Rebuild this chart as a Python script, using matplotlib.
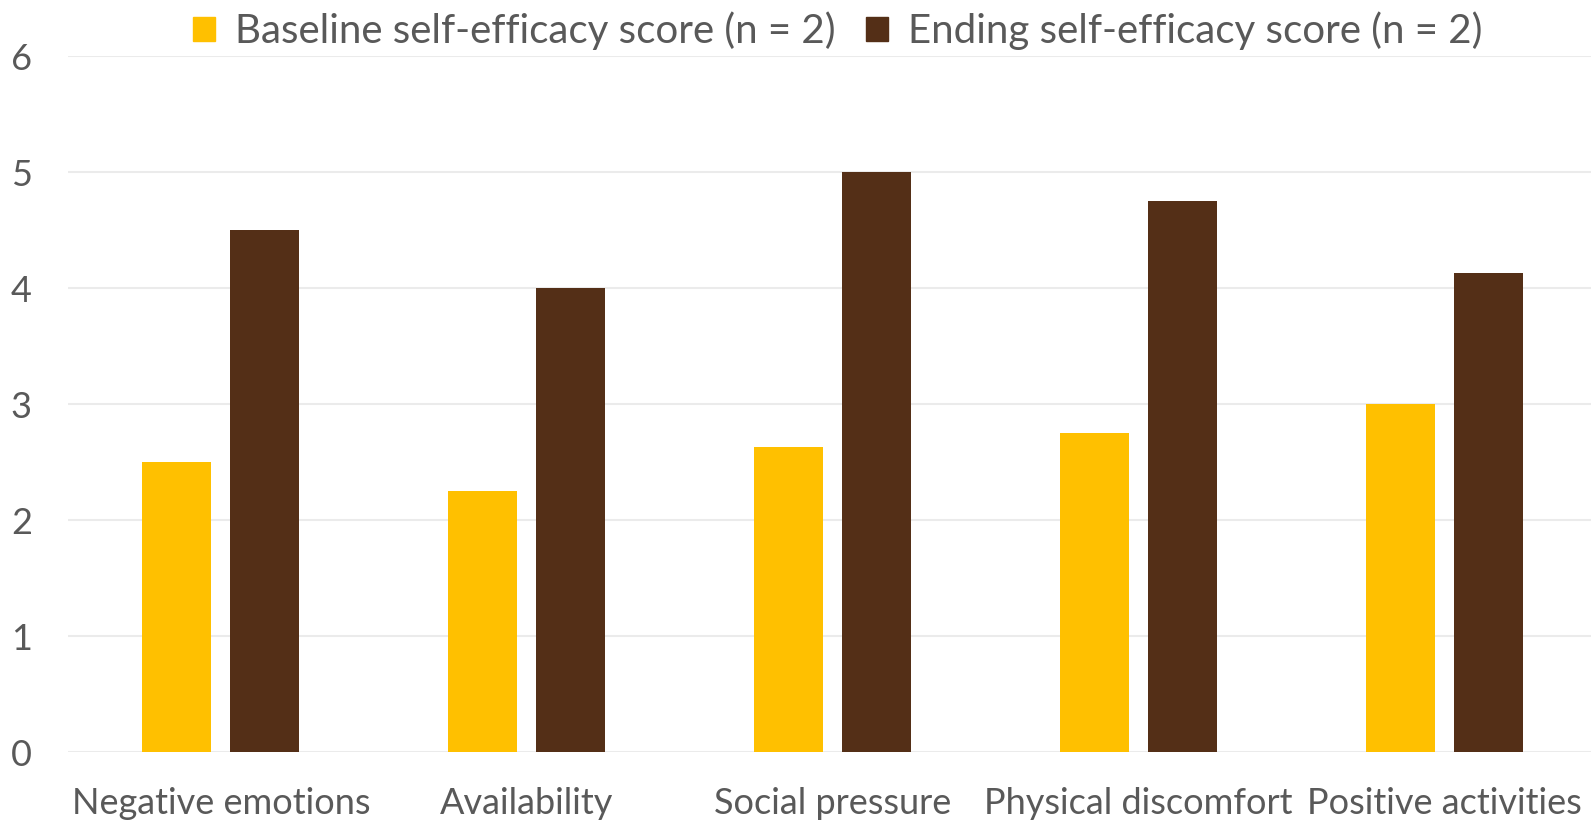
import numpy as np
import matplotlib.pyplot as plt
from matplotlib.patches import Patch

categories = ['Negative emotions', 'Availability', 'Social pressure',
              'Physical discomfort', 'Positive activities']
baseline = [2.5, 2.25, 2.625, 2.75, 3.0]
ending = [4.5, 4.0, 5.0, 4.75, 4.125]
series_names = ['Baseline self-efficacy score (n = 2)',
                'Ending self-efficacy score (n = 2)']
colors = ['#FFC000', '#542F17']
text_color = '#595959'

plt.rcParams['font.family'] = ['Lato', 'DejaVu Sans']

fig = plt.figure(figsize=(15.91, 8.22), dpi=100)
ax = fig.add_axes([68 / 1591, 1 - 752 / 822, 1529 / 1591, 696 / 822])

x = np.arange(len(categories))
width = 0.226
offset = 0.144
ax.bar(x - offset, baseline, width, color=colors[0], zorder=3)
ax.bar(x + offset, ending, width, color=colors[1], zorder=3)

ax.set_xlim(-0.5, 4.5)
ax.set_ylim(0, 6)
ax.set_yticks(range(7))
ax.set_xticks(x)
ax.set_xticklabels(categories)
ax.grid(axis='y', color='#EBEBEB', linewidth=1.5, zorder=0)
for s in ax.spines.values():
    s.set_visible(False)
ax.tick_params(axis='both', length=0, labelsize=26, labelcolor=text_color)
ax.tick_params(axis='y', pad=26)
ax.tick_params(axis='x', pad=25)

handles = [Patch(color=c) for c in colors]
fig.legend(handles, series_names, loc='center', bbox_to_anchor=(838 / 1591, 1 - 31 / 822),
           ncol=2, frameon=False, fontsize=29, labelcolor=text_color,
           handlelength=0.55, handleheight=0.55, handletextpad=0.5, columnspacing=0.75)

fig.savefig('out.png', dpi=100)
